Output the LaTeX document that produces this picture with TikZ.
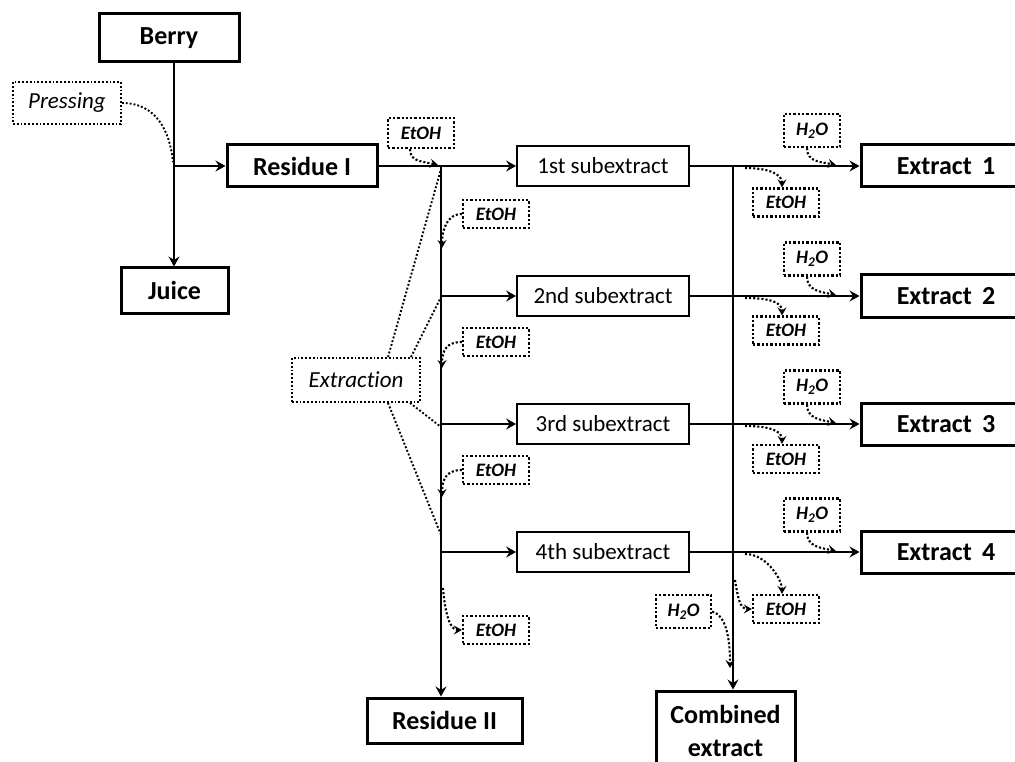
\documentclass[tikz,border=0pt]{standalone}
\usepackage{fontspec}
\setmainfont{Carlito}[Ligatures=NoCommon]
\usetikzlibrary{arrows.meta}
\begin{document}
\begin{tikzpicture}[x=1pt,y=-1pt,
  big/.style={draw, line width=3pt, inner sep=0pt, font=\fontsize{26}{33}\selectfont\bfseries},
  subbox/.style={draw, line width=1.8pt, inner sep=0pt, minimum width=172pt, minimum height=40pt, font=\fontsize{23}{26}\selectfont},
  extbox/.style={big, minimum width=170pt, minimum height=42pt},
  tag/.style={draw, dotted, line width=2.3pt, inner sep=0pt, font=\fontsize{19}{20}\selectfont\bfseries\itshape},
  etoh/.style={tag, minimum width=66pt, minimum height=28pt},
  water/.style={tag, minimum width=56pt, minimum height=33pt},
  note/.style={draw, dotted, line width=1.8pt, inner sep=0pt, font=\fontsize{23}{26}\selectfont\itshape},
  flow/.style={line width=2.9pt, -{Stealth[length=10pt,width=11pt,inset=3.5pt]}},
  feed/.style={dotted, line width=2.1pt, -{Stealth[length=8pt,width=9pt,inset=3pt]}},
  guide/.style={dotted, line width=1.9pt},
  ]
\useasboundingbox (0,0) rectangle (1015,762);

% main boxes
\node[big, minimum width=140pt, minimum height=48pt] (berry) at (169,38) {Berry};
\node[big, minimum width=107pt, minimum height=45pt] (juice) at (174.5,290.5) {Juice};
\node[big, minimum width=150pt, minimum height=42pt] (res1) at (302,166) {Residue I};
\node[big, minimum width=155pt, minimum height=45pt] (res2) at (444.5,720.5) {Residue II};
\node[big, minimum width=139pt, minimum height=80pt, align=center] (comb) at (725.5,731) {Combined\\extract};

\node[note, minimum width=108pt, minimum height=42pt] (press) at (67,103) {Pressing};
\node[note, minimum width=128pt, minimum height=44pt] (extr) at (356,380) {Extraction};

% subextracts and extracts
\node[subbox] (sub1) at (603,166) {1st subextract};
\node[subbox] (sub2) at (603,296) {2nd subextract};
\node[subbox] (sub3) at (603,424) {3rd subextract};
\node[subbox] (sub4) at (603,552) {4th subextract};
\node[extbox] (ext1) at (946,166) {Extract\, 1};
\node[extbox] (ext2) at (946,296) {Extract\, 2};
\node[extbox] (ext3) at (946,424) {Extract\, 3};
\node[extbox] (ext4) at (946,552) {Extract\, 4};

% solvent tags
\node[tag, minimum width=66pt, minimum height=30pt] (e0) at (421,133) {EtOH};
\node[etoh] (e1) at (496,214) {EtOH};
\node[etoh] (e2) at (496,342) {EtOH};
\node[etoh] (e3) at (496,470) {EtOH};
\node[etoh] (e4) at (496,630) {EtOH};
\node[water] (h1) at (812,130.5) {H\textsubscript{2}O};
\node[water] (h2) at (812,259) {H\textsubscript{2}O};
\node[water] (h3) at (812,387) {H\textsubscript{2}O};
\node[water] (h4) at (812,515) {H\textsubscript{2}O};
\node[etoh] (r1) at (786,202.5) {EtOH};
\node[etoh] (r2) at (786,330.5) {EtOH};
\node[etoh] (r3) at (786,459) {EtOH};
\node[etoh] (r4) at (786,609) {EtOH};
\node[water, minimum width=55pt] (hc) at (683.5,611.5) {H\textsubscript{2}O};

% junctions
\coordinate (j0) at (174,166);
\coordinate (j1) at (441,166);
\coordinate (b2) at (441,296);
\coordinate (b3) at (441,424);
\coordinate (b4) at (441,552);
\coordinate (k1) at (733,166);

% pressing
\draw[flow] (j0 |- berry.south) -- (j0 |- juice.north);
\draw[flow] (j0) -- (res1.west);

% extraction line
\draw[flow] (res1.east) -- (sub1.west);
\draw[flow] (j1) -- (j1 |- res2.north);
\draw[flow] (b2) -- (sub2.west);
\draw[flow] (b3) -- (sub3.west);
\draw[flow] (b4) -- (sub4.west);

% extracts
\draw[flow] (sub1.east) -- (ext1.west);
\draw[flow] (sub2.east) -- (ext2.west);
\draw[flow] (sub3.east) -- (ext3.west);
\draw[flow] (sub4.east) -- (ext4.west);
\draw[flow] (k1) -- (k1 |- comb.north);

% annotation guides
\coordinate (p0) at (173,162);
\draw[guide] (press.east) .. controls +(35,0) and +(-3,-30) .. (p0);
\draw[guide] ([xshift=32pt]extr.north) -- (441,169);
\draw[guide] ([xshift=55pt]extr.north) -- (441,297);
\draw[guide] ([xshift=54pt]extr.south) -- (441,427);
\draw[guide] ([xshift=32pt]extr.south) -- (441,535);

% ethanol feeds on the left column
\coordinate (t0) at (438,165);
\coordinate (t1) at (442,248);
\coordinate (t2) at (442,368);
\coordinate (t3) at (442,497);
\coordinate (s4) at (443,588);
\draw[feed] ([xshift=-11pt]e0.south) .. controls +(0,12) and +(-18,-4) .. (t0);
\draw[feed] (e1.west) .. controls +(-15,0) and +(0,-18) .. (t1);
\draw[feed] (e2.west) .. controls +(-15,0) and +(0,-18) .. (t2);
\draw[feed] (e3.west) .. controls +(-15,0) and +(0,-18) .. (t3);
\draw[feed] (s4) .. controls +(2,25) and +(-12,0) .. (e4.west);

% water feeds and ethanol removal on the right
\coordinate (u1) at (836,165);
\coordinate (u2) at (836,295);
\coordinate (u3) at (836,423);
\coordinate (u4) at (836,551);
\coordinate (v1) at (745,168);
\coordinate (v2) at (745,298);
\coordinate (v3) at (745,426);
\coordinate (v4) at (745,554);
\coordinate (w4) at (735,580);
\coordinate (uc) at (730,668);
\draw[feed] ([xshift=-5pt]h1.south) .. controls +(0,14) and +(-15,-3) .. (u1);
\draw[feed] ([xshift=-5pt]h2.south) .. controls +(0,14) and +(-15,-3) .. (u2);
\draw[feed] ([xshift=-5pt]h3.south) .. controls +(0,14) and +(-15,-3) .. (u3);
\draw[feed] ([xshift=-5pt]h4.south) .. controls +(0,14) and +(-15,-3) .. (u4);
\draw[feed] (v1) .. controls +(22,0) and +(0,-14) .. ([xshift=-4pt]r1.north);
\draw[feed] (v2) .. controls +(22,0) and +(0,-14) .. ([xshift=-4pt]r2.north);
\draw[feed] (v3) .. controls +(22,0) and +(0,-14) .. ([xshift=-4pt]r3.north);
\draw[feed] (v4) .. controls +(22,0) and +(0,-14) .. ([xshift=-4pt]r4.north);
\draw[feed] (w4) .. controls +(3,18) and +(-12,0) .. (r4.west);
\draw[feed] (hc.east) .. controls +(14,4) and +(0,-30) .. (uc);
\end{tikzpicture}
\end{document}
